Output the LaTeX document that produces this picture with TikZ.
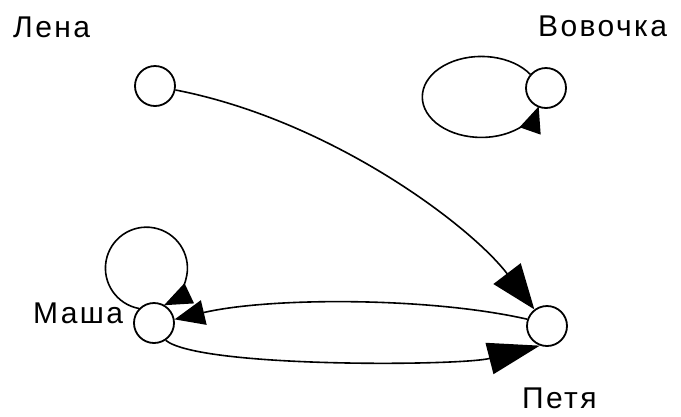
\documentclass[tikz,border=0pt]{standalone}
\usepackage{fontspec}
\setmainfont{Liberation Sans}[LetterSpace=8]
\usetikzlibrary{arrows.meta}
\begin{document}
\begin{tikzpicture}[x=1pt,y=-1pt,
  vert/.style={circle,draw,line width=1.8pt,minimum size=40pt,inner sep=0pt},
  lbl/.style={anchor=base west,inner sep=0pt,font=\fontsize{30pt}{36pt}\selectfont},
  edge/.style={line width=1.6pt}]
\useasboundingbox[fill=white] (0,0) rectangle (681,416);
% vertices
\node[vert] (lena) at (155,86) {};
\node[vert] (vova) at (546,88) {};
\node[vert] (masha) at (154,323) {};
\node[vert] (petya) at (547,326) {};
% labels
\node[lbl] (lenaL) at (13,37) {Лена};
\node[lbl] (vovaL) at (538,36) {Вовочка};
\node[lbl] (mashaL) at (33,323) {Маша};
\node[lbl] (petyaL) at (522,408) {Петя};
% edges
\draw[edge,-{Triangle[length=45pt,width=34pt]}] (lena) .. controls (330,120) and (470,225) .. (petya);
\draw[edge,-{Triangle[length=52pt,width=32pt]}] (masha.304) .. controls (200,368) and (460,366) .. (petya.250);
\draw[edge,-{Triangle[length=30pt,width=25pt]}] (petya.161) .. controls (430,297) and (270,297) .. (masha.10);
\draw[edge,-{Triangle[length=28pt,width=22pt]}] (masha.136.6) arc[start angle=100.5,end angle=424.7,radius=41];
\draw[edge,-{Triangle[length=26pt,width=22pt]}] (vova.139) arc[start angle=-34,end angle=-346.5,x radius=59,y radius=40.5];
\end{tikzpicture}
\end{document}
